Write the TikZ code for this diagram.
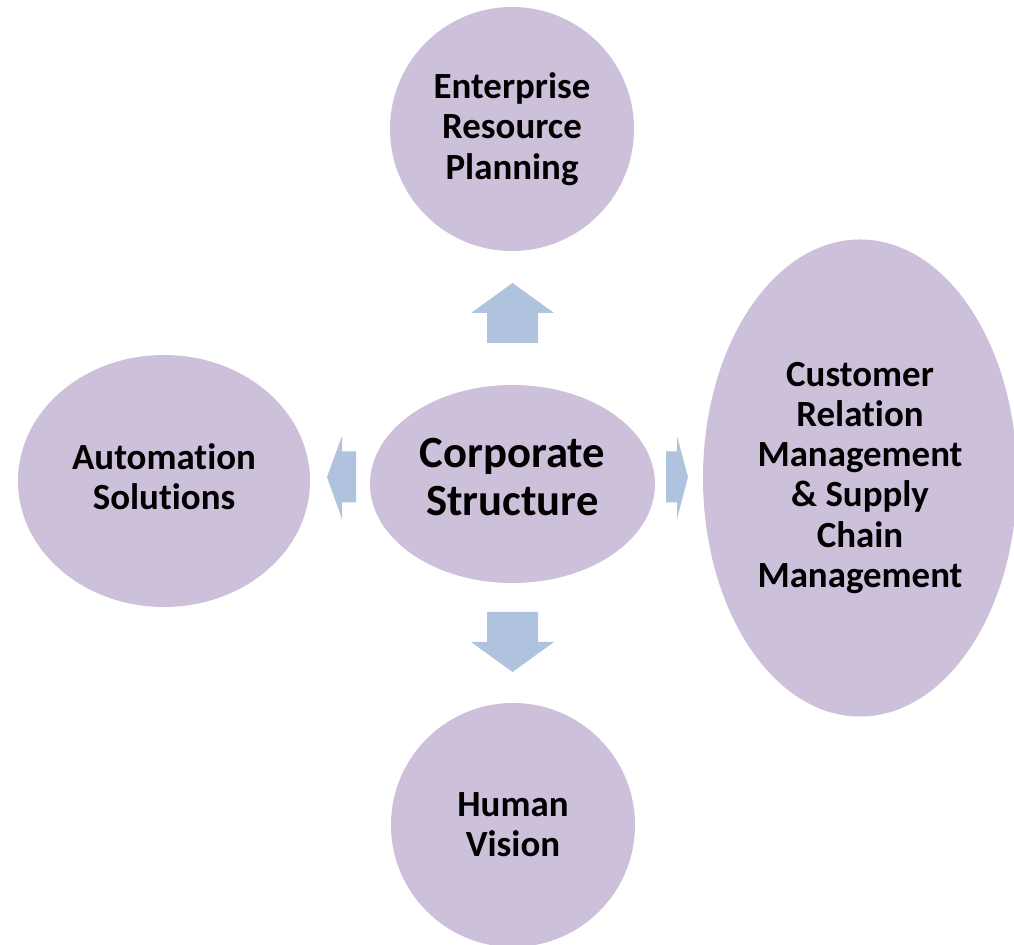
\documentclass[tikz,border=0pt]{standalone}
\usepackage{fontspec}
\setmainfont{Carlito}[Ligatures=CommonOff]
\usetikzlibrary{shapes.geometric}

\definecolor{lavender}{HTML}{CCC0DA}
\definecolor{steelarrow}{HTML}{B0C3DE}

\begin{document}
\begin{tikzpicture}[
			bubble/.style={ellipse, fill=lavender, inner sep=0pt, align=center,
				font=\fontsize{10.5}{11.4}\selectfont\bfseries},
			roundbubble/.style={bubble, circle, minimum size=2.44cm},
			blockarrow/.style={fill=steelarrow}
		]
			\useasboundingbox (0,0) rectangle (10.14,9.45);
			
			% hub and the four areas
			\node[bubble, minimum width=2.85cm, minimum height=1.98cm, text depth=0.14cm,
				font=\fontsize{12.7}{13.5}\selectfont\bfseries] (core) at (5.125, 4.61) {Corporate\\Structure};
			\node[roundbubble, font=\fontsize{10.5}{11.5}\selectfont\bfseries] (erp) at (5.12, 8.16) {Enterprise\\Resource\\Planning};
			\node[roundbubble] (vision) at (5.13, 1.20) {Human\\Vision};
			\node[bubble, minimum width=2.92cm, minimum height=2.52cm, text depth=0.08cm] (automation) at (1.64, 4.64) {Automation\\Solutions};
			\node[bubble, minimum width=3.14cm, minimum height=4.77cm] (crm) at (8.60, 4.67) {Customer\\Relation\\Management\\\& Supply\\Chain\\Management};
			
			% block arrows out of the hub
			\coordinate (upTip) at (5.125, 6.62);
			\fill[blockarrow] (upTip) -- ++(-0.415,-0.30) -- ++(0.16,0) -- ++(0,-0.30) -- ++(0.51,0) -- ++(0,0.30) -- ++(0.16,0) -- cycle;
			\coordinate (downTip) at (5.125, 2.73);
			\fill[blockarrow] (downTip) -- ++(-0.415,0.30) -- ++(0.16,0) -- ++(0,0.30) -- ++(0.51,0) -- ++(0,-0.30) -- ++(0.16,0) -- cycle;
			\coordinate (leftTip) at (3.27, 4.68);
			\fill[blockarrow] (leftTip) -- ++(0.15,0.41) -- ++(0,-0.155) -- ++(0.14,0) -- ++(0,-0.51) -- ++(-0.14,0) -- ++(0,-0.165) -- cycle;
			\coordinate (rightTip) at (6.88, 4.68);
			\fill[blockarrow] (rightTip) -- ++(-0.11,0.41) -- ++(0,-0.155) -- ++(-0.11,0) -- ++(0,-0.51) -- ++(0.11,0) -- ++(0,-0.165) -- cycle;
		\end{tikzpicture}
\end{document}
